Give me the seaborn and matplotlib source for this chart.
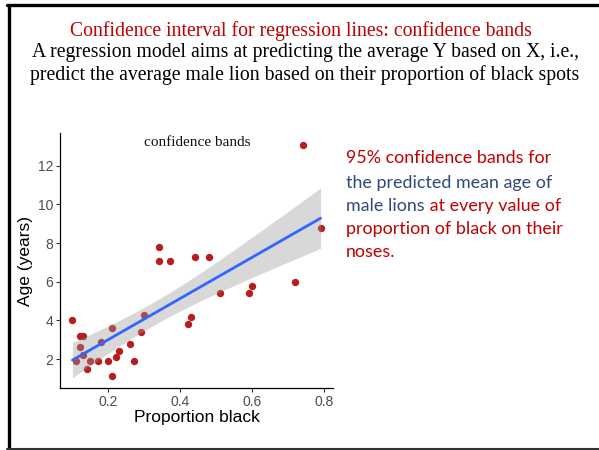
import matplotlib
matplotlib.use("Agg")
import matplotlib.pyplot as plt
import seaborn as sns
import pandas as pd
import numpy as np
from matplotlib.lines import Line2D

sns.set_theme(style="white")
plt.rcParams['font.family'] = ['Liberation Sans', 'DejaVu Sans']

prop_black = [0.21, 0.14, 0.11, 0.13, 0.12, 0.13, 0.12, 0.18, 0.23, 0.22, 0.20,
              0.17, 0.15, 0.27, 0.26, 0.21, 0.30, 0.42, 0.43, 0.59, 0.60, 0.72,
              0.29, 0.10, 0.48, 0.44, 0.34, 0.37, 0.34, 0.74, 0.79, 0.51]
age_years = [1.1, 1.5, 1.9, 2.2, 2.6, 3.2, 3.2, 2.9, 2.4, 2.1, 1.9,
             1.9, 1.9, 1.9, 2.8, 3.6, 4.3, 3.8, 4.2, 5.4, 5.8, 6.0,
             3.4, 4.0, 7.3, 7.3, 7.8, 7.1, 7.1, 13.1, 8.8, 5.4]
x_ticks = [0.2, 0.4, 0.6, 0.8]
y_ticks = [2, 4, 6, 8, 10, 12]

df = pd.DataFrame({"prop": prop_black, "age": age_years})

fig = plt.figure(figsize=(5.99, 4.5), dpi=100)
ax = fig.add_axes([60/599, 1-388/450, (333-60)/599, (388-133)/450])

sns.scatterplot(data=df, x="prop", y="age", ax=ax, color="#B91C1C", s=28,
                linewidth=0, zorder=1)
sns.regplot(data=df, x="prop", y="age", ax=ax, scatter=False, ci=None,
            color="#3366FF", line_kws={"linewidth": 2, "zorder": 3})

# analytic 95% confidence band for the mean (as in lm-based smoothing)
xv = df["prop"].to_numpy()
yv = df["age"].to_numpy()
n = len(xv)
b1, b0 = np.polyfit(xv, yv, 1)
resid = yv - (b0 + b1 * xv)
s = np.sqrt(np.sum(resid**2) / (n - 2))
grid = np.linspace(xv.min(), xv.max(), 100)
se = s * np.sqrt(1/n + (grid - xv.mean())**2 / np.sum((xv - xv.mean())**2))
tcrit = 2.0423  # t(0.975, df=30)
fit = b0 + b1 * grid
ax.fill_between(grid, fit - tcrit*se, fit + tcrit*se, color="#999999",
                alpha=0.38, linewidth=0, zorder=2)

ax.set_xlim(0.0655, 0.8245)
ax.set_ylim(0.5, 13.7)
ax.set_xticks(x_ticks)
ax.set_xticklabels([f"{v:.1f}" for v in x_ticks])
ax.set_yticks(y_ticks)
ax.set_yticklabels([str(v) for v in y_ticks])
ax.tick_params(axis="both", length=3, width=0.8, color="#333333",
               labelcolor="#4D4D4D", labelsize=10, pad=2, bottom=True, left=True)
for sp in ["top", "right"]:
    ax.spines[sp].set_visible(False)
for sp in ["left", "bottom"]:
    ax.spines[sp].set_color("black")
    ax.spines[sp].set_linewidth(0.9)
ax.set_xlabel("Proportion black", fontsize=12.5, color="black", labelpad=1)
ax.set_ylabel("Age (years)", fontsize=12.5, color="black", labelpad=3)

fig.text(197/599, 1-143/450, "confidence bands", ha="center",
         va="center", fontsize=11, family="Liberation Serif", color="#111111")

# Slide border
fig.add_artist(Line2D([8.5/599, 8.5/599], [1-5/450, 1-448.5/450], color="black",
                      linewidth=2.4, transform=fig.transFigure))
fig.add_artist(Line2D([7/599, 1.0], [1-5/450, 1-5/450], color="black",
                      linewidth=2.4, transform=fig.transFigure))
fig.add_artist(Line2D([7/599, 1.0], [1-448.5/450, 1-448.5/450], color="#333333",
                      linewidth=1.5, transform=fig.transFigure))

# Header text
hfs = 14.2
fig.text(301/599, 1-31/450, "Confidence interval for regression lines: confidence bands",
         ha="center", va="center", fontsize=hfs, family="Liberation Serif", color="#C00000")
fig.text(305/599, 1-53/450, "A regression model aims at predicting the average Y based on X, i.e.,",
         ha="center", va="center", fontsize=hfs, family="Liberation Serif", color="black")
fig.text(305/599, 1-75/450, "predict the average male lion based on their proportion of black spots",
         ha="center", va="center", fontsize=hfs, family="Liberation Serif", color="black")

# Right side annotation
red = "#C00000"
blue = "#2E4A7A"
fs = 12.9
fam = "Lato"
x0 = 346/599
fig.text(x0, 1-158/450, "95% confidence bands for", color=red, fontsize=fs, family=fam, va="center")
fig.text(x0, 1-183/450, "the predicted mean age of", color=blue, fontsize=fs, family=fam, va="center")
t = fig.text(x0, 1-206/450, "male lions", color=blue, fontsize=fs, family=fam, va="center")
fig.canvas.draw()
bb = t.get_window_extent(renderer=fig.canvas.get_renderer())
fig.text(bb.x1/fig.bbox.width, 1-206/450, " at every value of", color=red, fontsize=fs,
         family=fam, va="center")
fig.text(x0, 1-229/450, "proportion of black on their", color=red, fontsize=fs, family=fam, va="center")
fig.text(x0, 1-252/450, "noses.", color=red, fontsize=fs, family=fam, va="center")

fig.savefig("out.png", dpi=100)
